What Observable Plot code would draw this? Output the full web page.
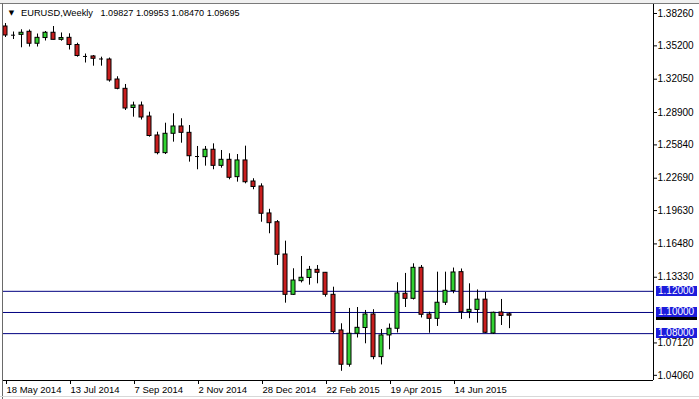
<!DOCTYPE html>
<html><head><meta charset="utf-8">
<script src="https://cdn.jsdelivr.net/npm/d3@7"></script>
<script src="https://cdn.jsdelivr.net/npm/@observablehq/plot@0.6"></script>
<style>
html,body{margin:0;padding:0;background:#fff;}
#chart{width:699px;height:399px;overflow:hidden;}
</style></head><body><div id="chart"></div>
<script>
// ---- data ----
const symbolName = "EURUSD,Weekly";
const lastBarText = ["1.09827", "1.09953", "1.08470", "1.09695"];
const lastPrice = 1.09695;

const opens = [1.3703,1.3621,1.3624,1.3653,1.3540,1.3594,1.3644,1.3577,1.3596,1.3528,
  1.3420,1.3420,1.3396,1.3391,1.3202,1.3114,1.2933,1.2956,1.2852,1.2673,
  1.2506,1.2689,1.2758,1.2698,1.2474,1.2468,1.2538,1.2386,1.2443,1.2279,
  1.2437,1.2238,1.2191,1.1936,1.1853,1.1548,1.1167,1.1296,1.1326,1.1403,
  1.1375,1.1167,1.0830,1.0506,1.0799,1.0853,1.0981,1.0578,1.0783,1.0846,
  1.1177,1.1129,1.1422,1.0981,1.0940,1.1092,1.1203,1.1381,1.1003,1.1024,
  1.1121,1.0801,1.1000,1.09827];
const highs = [1.3731,1.3651,1.3672,1.3670,1.3632,1.3656,1.3703,1.3642,1.3634,1.3545,
  1.3443,1.3429,1.3413,1.3405,1.3228,1.3155,1.2988,1.2989,1.2893,1.2704,
  1.2789,1.2878,1.2831,1.2767,1.2569,1.2569,1.2594,1.2531,1.2500,1.2493,
  1.2572,1.2264,1.2216,1.1975,1.1869,1.1674,1.1413,1.1529,1.1435,1.1444,
  1.1378,1.1239,1.0893,1.1038,1.1047,1.1019,1.1026,1.0839,1.0891,1.1281,
  1.1369,1.1460,1.1444,1.1003,1.1381,1.1381,1.1420,1.1411,1.1271,1.1213,
  1.1189,1.1003,1.1123,1.09953];
const lows = [1.3599,1.3580,1.3502,1.3509,1.3509,1.3566,1.3576,1.3564,1.3481,1.3413,
  1.3358,1.3328,1.3328,1.3177,1.3105,1.2909,1.2846,1.2819,1.2657,1.2490,
  1.2493,1.2610,1.2600,1.2421,1.2349,1.2383,1.2349,1.2364,1.2254,1.2232,
  1.2216,1.2160,1.1853,1.1744,1.1444,1.1088,1.1161,1.1279,1.1258,1.1271,
  1.1145,1.0801,1.0444,1.0483,1.0759,1.0704,1.0553,1.0504,1.0647,1.0806,
  1.1047,1.1118,1.0948,1.0804,1.0868,1.1066,1.1177,1.0934,1.0941,1.0899,
  1.0801,1.0792,1.0877,1.08470];
const closes = [1.3618,1.3621,1.3644,1.3540,1.3596,1.3644,1.3577,1.3594,1.3528,1.3424,
  1.3420,1.3398,1.3396,1.3193,1.3114,1.2928,1.2956,1.2843,1.2668,1.2506,
  1.2689,1.2758,1.2698,1.2477,1.2474,1.2538,1.2386,1.2443,1.2273,1.2437,
  1.2231,1.2186,1.1933,1.1844,1.1545,1.1167,1.1302,1.1328,1.1403,1.1375,
  1.1167,1.0816,1.0506,1.0799,1.0855,1.0981,1.0578,1.0783,1.0846,1.1180,
  1.1129,1.1422,1.0978,1.0940,1.1092,1.1205,1.1378,1.1003,1.1025,1.1121,
  1.0808,1.0997,1.0967,1.09695];

const dateLabels = ["18 May 2014","13 Jul 2014","7 Sep 2014","2 Nov 2014",
  "28 Dec 2014","22 Feb 2015","19 Apr 2015","14 Jun 2015"];
const barsPerDateLabel = 8;
const priceTicks = [1.38260,1.35200,1.32050,1.28900,1.25840,1.22690,1.19630,
  1.16480,1.13330,1.07120,1.04060];
const levels = [1.12, 1.10, 1.08];

// ---- layout ----
const W = 699, H = 399, mL = 3, mR = 46, mT = 4, mB = 19, slot = 8;
const xDomain = [-2 / slot, -2 / slot + (W - mL - mR) / slot];
const yDomain = [1.0357, 1.3911];
const FONT = "'Liberation Sans', Arial, sans-serif";

const bars = opens.map((o, i) => ({i, open: o, high: highs[i], low: lows[i], close: closes[i]}));
const bodies = bars.filter(d => d.open !== d.close);
const flats = bars.filter(d => d.open === d.close);
const dateTicks = dateLabels.map((_, j) => j * barsPerDateLabel);
const headerPrices = lastBarText.join(" ");

const chart = Plot.plot({
  width: W, height: H,
  marginLeft: mL, marginRight: mR, marginTop: mT, marginBottom: mB,
  style: {fontFamily: FONT, fontSize: "9.5px", color: "#000", background: "#fff"},
  x: {type: "linear", domain: xDomain, label: null},
  y: {domain: yDomain, label: null},
  marks: [
    Plot.ruleY(levels, {stroke: "#000080", strokeWidth: 1}),
    Plot.ruleX(bars, {x: "i", y1: "low", y2: "high", stroke: "#000"}),
    Plot.rect(bodies, {
      x1: d => d.i - 0.25, x2: d => d.i + 0.25, y1: "open", y2: "close",
      fill: d => d.close > d.open ? "#32d232" : "#c81e1e", stroke: "#000"
    }),
    Plot.ruleY(flats, {y: "open", x1: d => d.i - 0.25, x2: d => d.i + 0.25, stroke: "#000"}),
    Plot.ruleY([yDomain[0]], {stroke: "#000"}),
    Plot.ruleX([xDomain[1]], {stroke: "#000"}),
    Plot.axisX(dateTicks, {
      anchor: "bottom", tickSize: 4, tickPadding: 2, label: null,
      tickFormat: (d, j) => dateLabels[j], textAnchor: "start", dx: 1,
      fontSize: 9.5, stroke: "#000"
    }),
    Plot.axisY(priceTicks, {
      anchor: "right", tickSize: 3, tickPadding: 1, label: null,
      tickFormat: d3.format(".5f"), fontSize: 10
    }),
    Plot.text(["▼"], {frameAnchor: "top-left", dx: 8, dy: 6, lineAnchor: "top",
      fontFamily: "DejaVu Sans", fontSize: 7, fill: "#000", textAnchor: "middle"}),
    Plot.text([symbolName], {frameAnchor: "top-left", dx: 17.5, dy: 4.5, lineAnchor: "top",
      fontSize: 9.8, fill: "#000", textAnchor: "start"}),
    Plot.text([headerPrices], {frameAnchor: "top-left", dx: 97, dy: 4.5, lineAnchor: "top",
      fontSize: 9.8, fill: "#000", textAnchor: "start"})
  ]
});

document.getElementById("chart").appendChild(chart);
const svg = d3.select(chart);

// fit header text widths to the reference
svg.selectAll("text").each(function () {
  const t = this.textContent;
  if (t === symbolName) d3.select(this).attr("textLength", 72).attr("lengthAdjust", "spacingAndGlyphs");
  if (t === headerPrices) d3.select(this).attr("textLength", 139).attr("lengthAdjust", "spacingAndGlyphs");
});

// window border lines
svg.insert("rect", ":first-child").attr("x", 0).attr("y", 0).attr("width", W).attr("height", 3).attr("fill", "#f0f0f0");
svg.append("line").attr("x1", 0).attr("x2", W).attr("y1", 3.5).attr("y2", 3.5).attr("stroke", "#7a7a7a");
svg.append("line").attr("x1", 2.5).attr("x2", 2.5).attr("y1", 3).attr("y2", H).attr("stroke", "#6a6a6a");
svg.append("line").attr("x1", 0).attr("x2", W).attr("y1", 396.5).attr("y2", 396.5).attr("stroke", "#d8d8d8");

// price tags on the right axis, positioned via the chart's y scale
const ys = chart.scale("y");
const g = svg.append("g")
  .attr("font-family", FONT).attr("font-size", 10).attr("text-anchor", "start");
function tag(v, bg, withText) {
  const y = Math.round(ys.apply(v));
  g.append("rect").attr("x", 656).attr("y", y - 5).attr("width", 41).attr("height", 10).attr("fill", bg);
  if (withText) g.append("text").attr("x", 658).attr("y", y).attr("dy", "0.34em").attr("fill", "#fff")
    .attr("text-anchor", "start").text(v.toFixed(5));
}
tag(lastPrice, "#000", false);
levels.forEach(v => tag(v, "#1c1cdc", true));
</script></body></html>
